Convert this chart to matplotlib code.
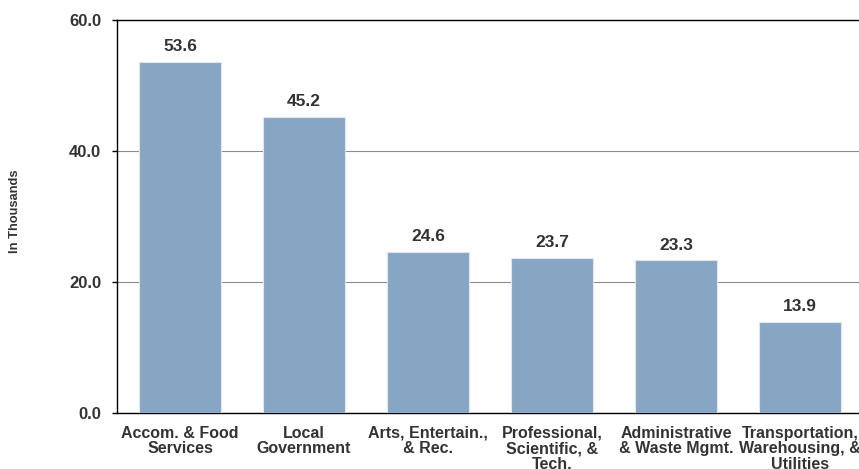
import matplotlib.pyplot as plt

plt.rcParams['font.family'] = ['Liberation Sans', 'DejaVu Sans']

categories = ['Accom. & Food\nServices', 'Local\nGovernment', 'Arts, Entertain.,\n& Rec.',
              'Professional,\nScientific, &\nTech.', 'Administrative\n& Waste Mgmt.',
              'Transportation,\nWarehousing, &\nUtilities']
values = [53.6, 45.2, 24.6, 23.7, 23.3, 13.9]
yticks = [0, 20, 40, 60]

bar_color = '#87A6C4'
text_color = '#333333'

fig = plt.figure(figsize=(8.59, 4.69), dpi=100)
ax = fig.add_axes([0.1362, 0.1194, 0.8673, 0.838])

x = list(range(len(values)))
ax.bar(x, values, width=0.66, color=bar_color, edgecolor='#dfe7ef', linewidth=0.8, zorder=3)
for xi, v in zip(x, values):
    ax.text(xi, v + 1.2, f'{v:.1f}', ha='center', va='bottom', fontsize=12.5,
            fontweight='bold', color=text_color)

ax.set_xlim(-0.508, 5.5)
ax.set_ylim(0, 60)
ax.set_yticks(yticks)
ax.set_yticklabels([f'{t:.1f}' for t in yticks], fontsize=12, fontweight='bold', color=text_color)
ax.set_xticks(x)
ax.set_xticklabels(categories, fontsize=11.5, fontweight='bold', color=text_color, linespacing=1.08)
ax.tick_params(axis='x', length=0, pad=9)
ax.tick_params(axis='y', length=3.5, width=1, pad=8)
ax.yaxis.grid(True, color='#8c8c8c', linewidth=0.8, zorder=0)
for s in ['left', 'bottom', 'top']:
    ax.spines[s].set_color('#000000')
    ax.spines[s].set_linewidth(1.0)
ax.spines['right'].set_visible(False)

fig.text(0.018, 0.55, 'In Thousands', rotation=90, ha='center', va='center',
         fontsize=9.3, fontweight='bold', color=text_color)

fig.savefig('out.png', dpi=100)
